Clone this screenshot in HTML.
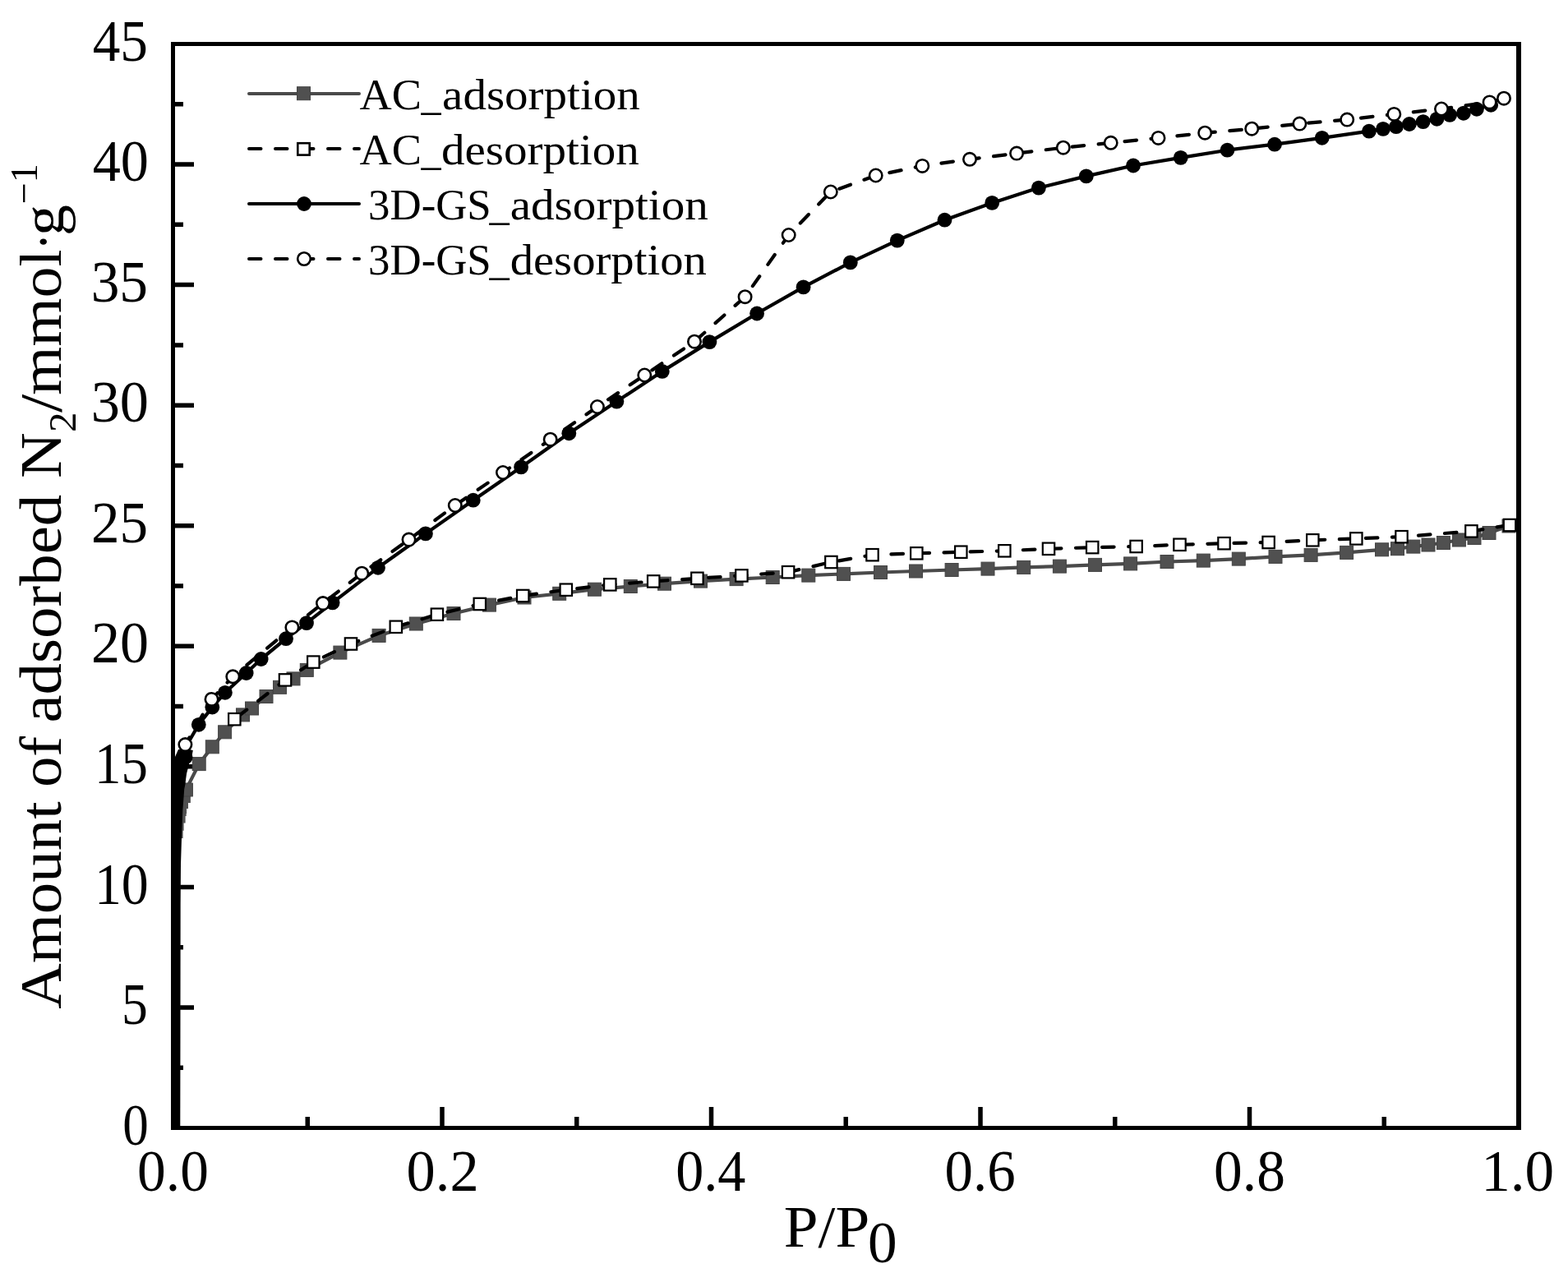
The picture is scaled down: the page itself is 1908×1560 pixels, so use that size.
<!DOCTYPE html>
<html><head><meta charset="utf-8"><title>N2 adsorption isotherms</title>
<style>html,body{margin:0;padding:0;background:#fff;overflow:hidden;}svg{display:block;}</style>
</head><body>
<svg width="1908" height="1560" viewBox="0 0 1908 1560">
<rect x="0" y="0" width="1908" height="1560" fill="#ffffff"/>
<defs><clipPath id="pc"><rect x="210.5" y="53.5" width="1637.5" height="1319"/></clipPath></defs>
<path d="M213,1299.22h10 M213,1225.94h23 M213,1152.67h10 M213,1079.39h23 M213,1006.11h10 M213,932.83h23 M213,859.56h10 M213,786.28h23 M213,713.00h10 M213,639.72h23 M213,566.44h10 M213,493.17h23 M213,419.89h10 M213,346.61h23 M213,273.33h10 M213,200.06h23 M213,126.78h10 M374.25,1370v-11 M538.00,1370v-23 M701.75,1370v-11 M865.50,1370v-23 M1029.25,1370v-11 M1193.00,1370v-23 M1356.75,1370v-11 M1520.50,1370v-23 M1684.25,1370v-11" stroke="#000" stroke-width="5.5" fill="none"/>
<g clip-path="url(#pc)">
<polyline points="226.3,961.0 242.2,929.6 258.3,908.8 273.6,890.8 295.5,869.9 306.5,862.0 324.0,847.5 340.5,836.3 357.0,825.9 373.3,815.4 413.9,794.1 461.1,773.4 506.3,759.0 552.0,746.5 595.4,736.1 638.0,727.0 680.7,722.3 723.4,717.2 767.3,713.5 808.5,710.2 852.5,707.1 896.1,704.6 940.2,702.5 983.8,700.1 1026.5,698.4 1071.5,696.5 1114.5,695.0 1158.1,693.5 1202.0,692.1 1245.7,690.4 1289.4,689.1 1332.5,687.4 1375.6,685.9 1420.0,683.5 1464.3,682.1 1507.3,680.1 1552.0,677.4 1595.1,675.4 1638.6,672.4 1681.5,668.8 1700.5,667.7 1719.8,665.1 1738.0,663.0 1756.4,660.5 1775.4,657.0 1794.0,654.5 1812.0,648.5 1836.0,640.0" fill="none" stroke="#4a4a4a" stroke-width="4.2" stroke-linejoin="round"/>
<polygon points="213.0,1376.0 213.0,953.0 234.8,953.0 234.8,968.8 231.9,968.8 231.9,976.9 229.0,976.9 229.0,983.9 227.1,983.9 227.1,990.0 226.7,990.0 226.7,993.0 225.6,993.0 225.6,1001.5 223.6,1001.5 223.6,1010.8 222.6,1010.8 222.6,1020.0 220.0,1020.0 219.5,1060.0 219.0,1376.0" fill="#505050"/>
<g fill="#505050" stroke="#444" stroke-width="1">
<rect x="218.3" y="953.0" width="16" height="16"/>
<rect x="234.2" y="921.6" width="16" height="16"/>
<rect x="250.3" y="900.8" width="16" height="16"/>
<rect x="265.6" y="882.8" width="16" height="16"/>
<rect x="287.5" y="861.9" width="16" height="16"/>
<rect x="298.5" y="854.0" width="16" height="16"/>
<rect x="316.0" y="839.5" width="16" height="16"/>
<rect x="332.5" y="828.3" width="16" height="16"/>
<rect x="349.0" y="817.9" width="16" height="16"/>
<rect x="365.3" y="807.4" width="16" height="16"/>
<rect x="405.9" y="786.1" width="16" height="16"/>
<rect x="453.1" y="765.4" width="16" height="16"/>
<rect x="498.3" y="751.0" width="16" height="16"/>
<rect x="544.0" y="738.5" width="16" height="16"/>
<rect x="587.4" y="728.1" width="16" height="16"/>
<rect x="630.0" y="719.0" width="16" height="16"/>
<rect x="672.7" y="714.3" width="16" height="16"/>
<rect x="715.4" y="709.2" width="16" height="16"/>
<rect x="759.3" y="705.5" width="16" height="16"/>
<rect x="800.5" y="702.2" width="16" height="16"/>
<rect x="844.5" y="699.1" width="16" height="16"/>
<rect x="888.1" y="696.6" width="16" height="16"/>
<rect x="932.2" y="694.5" width="16" height="16"/>
<rect x="975.8" y="692.1" width="16" height="16"/>
<rect x="1018.5" y="690.4" width="16" height="16"/>
<rect x="1063.5" y="688.5" width="16" height="16"/>
<rect x="1106.5" y="687.0" width="16" height="16"/>
<rect x="1150.1" y="685.5" width="16" height="16"/>
<rect x="1194.0" y="684.1" width="16" height="16"/>
<rect x="1237.7" y="682.4" width="16" height="16"/>
<rect x="1281.4" y="681.1" width="16" height="16"/>
<rect x="1324.5" y="679.4" width="16" height="16"/>
<rect x="1367.6" y="677.9" width="16" height="16"/>
<rect x="1412.0" y="675.5" width="16" height="16"/>
<rect x="1456.3" y="674.1" width="16" height="16"/>
<rect x="1499.3" y="672.1" width="16" height="16"/>
<rect x="1544.0" y="669.4" width="16" height="16"/>
<rect x="1587.1" y="667.4" width="16" height="16"/>
<rect x="1630.6" y="664.4" width="16" height="16"/>
<rect x="1673.5" y="660.8" width="16" height="16"/>
<rect x="1692.5" y="659.7" width="16" height="16"/>
<rect x="1711.8" y="657.1" width="16" height="16"/>
<rect x="1730.0" y="655.0" width="16" height="16"/>
<rect x="1748.4" y="652.5" width="16" height="16"/>
<rect x="1767.4" y="649.0" width="16" height="16"/>
<rect x="1786.0" y="646.5" width="16" height="16"/>
<rect x="1804.0" y="640.5" width="16" height="16"/>
<rect x="1828.0" y="632.0" width="16" height="16"/>
</g>
<polyline points="1837.0,639.0 1790.4,646.4 1705.5,653.2 1650.3,655.4 1597.3,657.3 1543.6,660.0 1489.5,661.2 1435.5,662.8 1382.6,665.0 1329.2,666.1 1276.0,667.8 1222.3,670.3 1169.3,671.7 1115.3,673.3 1061.5,675.2 1011.4,684.0 959.1,696.2 902.4,700.4 848.4,703.8 795.2,707.4 742.3,711.4 688.8,717.7 636.2,725.0 583.8,735.0 531.9,747.7 481.8,762.8 427.0,783.5 381.3,805.6 347.0,827.4 285.3,875.2" fill="none" stroke="#000" stroke-width="4.2" stroke-dasharray="14.5 17.6" stroke-dashoffset="-1.0" stroke-linecap="round" stroke-linejoin="round"/>
<g fill="#fff" stroke="#000" stroke-width="2.2">
<rect x="1829.8" y="631.8" width="14.4" height="14.4"/>
<rect x="1783.2" y="639.2" width="14.4" height="14.4"/>
<rect x="1698.3" y="646.0" width="14.4" height="14.4"/>
<rect x="1643.1" y="648.2" width="14.4" height="14.4"/>
<rect x="1590.1" y="650.1" width="14.4" height="14.4"/>
<rect x="1536.4" y="652.8" width="14.4" height="14.4"/>
<rect x="1482.3" y="654.0" width="14.4" height="14.4"/>
<rect x="1428.3" y="655.6" width="14.4" height="14.4"/>
<rect x="1375.4" y="657.8" width="14.4" height="14.4"/>
<rect x="1322.0" y="658.9" width="14.4" height="14.4"/>
<rect x="1268.8" y="660.6" width="14.4" height="14.4"/>
<rect x="1215.1" y="663.1" width="14.4" height="14.4"/>
<rect x="1162.1" y="664.5" width="14.4" height="14.4"/>
<rect x="1108.1" y="666.1" width="14.4" height="14.4"/>
<rect x="1054.3" y="668.0" width="14.4" height="14.4"/>
<rect x="1004.2" y="676.8" width="14.4" height="14.4"/>
<rect x="951.9" y="689.0" width="14.4" height="14.4"/>
<rect x="895.2" y="693.2" width="14.4" height="14.4"/>
<rect x="841.2" y="696.6" width="14.4" height="14.4"/>
<rect x="788.0" y="700.2" width="14.4" height="14.4"/>
<rect x="735.1" y="704.2" width="14.4" height="14.4"/>
<rect x="681.6" y="710.5" width="14.4" height="14.4"/>
<rect x="629.0" y="717.8" width="14.4" height="14.4"/>
<rect x="576.6" y="727.8" width="14.4" height="14.4"/>
<rect x="524.7" y="740.5" width="14.4" height="14.4"/>
<rect x="474.6" y="755.6" width="14.4" height="14.4"/>
<rect x="419.8" y="776.3" width="14.4" height="14.4"/>
<rect x="374.1" y="798.4" width="14.4" height="14.4"/>
<rect x="339.8" y="820.2" width="14.4" height="14.4"/>
<rect x="278.1" y="868.0" width="14.4" height="14.4"/>
</g>
<polyline points="226.5,908.0 241.8,881.8 258.3,860.5 273.9,842.8 299.7,819.0 317.7,802.0 348.0,777.2 373.0,758.1 404.6,733.4 460.0,690.8 517.9,649.4 575.8,608.7 634.1,568.4 692.3,527.3 750.4,488.6 805.8,451.9 863.4,416.1 921.1,381.5 977.6,349.4 1034.8,319.4 1091.8,292.6 1149.5,267.7 1207.2,246.9 1263.9,228.6 1321.8,214.4 1379.0,201.5 1436.7,191.9 1493.4,182.7 1551.0,175.7 1608.7,167.8 1665.9,159.7 1683.0,156.9 1698.9,154.2 1714.9,151.0 1731.7,148.1 1748.4,144.8 1764.1,139.9 1780.9,137.8 1796.9,132.8 1814.2,127.8" fill="none" stroke="#000" stroke-width="4.2" stroke-linejoin="round"/>
<polygon points="213.0,1376.0 213.0,921.0 217.0,912.0 226.0,911.0 234.8,913.0 233.2,922.0 230.3,928.5 228.7,935.0 227.1,941.3 226.2,947.7 225.5,954.0 224.2,960.5 223.3,973.3 222.3,986.0 221.0,1020.0 220.0,1052.0 219.5,1100.0 219.3,1376.0" fill="#000"/>
<g fill="#000">
<circle cx="225.6" cy="921.5" r="8.9"/>
<circle cx="241.8" cy="881.8" r="8.9"/>
<circle cx="258.3" cy="860.5" r="8.9"/>
<circle cx="273.9" cy="842.8" r="8.9"/>
<circle cx="299.7" cy="819.0" r="8.9"/>
<circle cx="317.7" cy="802.0" r="8.9"/>
<circle cx="348.0" cy="777.2" r="8.9"/>
<circle cx="373.0" cy="758.1" r="8.9"/>
<circle cx="404.6" cy="733.4" r="8.9"/>
<circle cx="460.0" cy="690.8" r="8.9"/>
<circle cx="517.9" cy="649.4" r="8.9"/>
<circle cx="575.8" cy="608.7" r="8.9"/>
<circle cx="634.1" cy="568.4" r="8.9"/>
<circle cx="692.3" cy="527.3" r="8.9"/>
<circle cx="750.4" cy="488.6" r="8.9"/>
<circle cx="805.8" cy="451.9" r="8.9"/>
<circle cx="863.4" cy="416.1" r="8.9"/>
<circle cx="921.1" cy="381.5" r="8.9"/>
<circle cx="977.6" cy="349.4" r="8.9"/>
<circle cx="1034.8" cy="319.4" r="8.9"/>
<circle cx="1091.8" cy="292.6" r="8.9"/>
<circle cx="1149.5" cy="267.7" r="8.9"/>
<circle cx="1207.2" cy="246.9" r="8.9"/>
<circle cx="1263.9" cy="228.6" r="8.9"/>
<circle cx="1321.8" cy="214.4" r="8.9"/>
<circle cx="1379.0" cy="201.5" r="8.9"/>
<circle cx="1436.7" cy="191.9" r="8.9"/>
<circle cx="1493.4" cy="182.7" r="8.9"/>
<circle cx="1551.0" cy="175.7" r="8.9"/>
<circle cx="1608.7" cy="167.8" r="8.9"/>
<circle cx="1665.9" cy="159.7" r="8.9"/>
<circle cx="1683.0" cy="156.9" r="8.9"/>
<circle cx="1698.9" cy="154.2" r="8.9"/>
<circle cx="1714.9" cy="151.0" r="8.9"/>
<circle cx="1731.7" cy="148.1" r="8.9"/>
<circle cx="1748.4" cy="144.8" r="8.9"/>
<circle cx="1764.1" cy="139.9" r="8.9"/>
<circle cx="1780.9" cy="137.8" r="8.9"/>
<circle cx="1796.9" cy="132.8" r="8.9"/>
<circle cx="1814.2" cy="127.8" r="8.9"/>
</g>
<polyline points="1830.0,119.7 1812.6,124.4 1754.0,132.5 1696.3,138.9 1639.2,145.6 1581.4,150.6 1523.2,156.7 1466.2,161.7 1409.5,167.9 1351.7,173.8 1293.8,179.7 1237.1,186.6 1180.0,193.8 1122.3,201.9 1065.7,213.5 1010.8,233.5 959.7,286.0 906.6,361.2 845.0,415.7 784.3,456.5 726.9,495.0 669.7,534.7 612.0,575.0 553.8,615.0 497.5,656.6 440.3,697.7 393.0,734.1 355.4,763.4 283.3,823.3 257.5,850.9 225.4,906.1" fill="none" stroke="#000" stroke-width="4.2" stroke-dasharray="14.5 17.6" stroke-dashoffset="-0.75" stroke-linecap="round" stroke-linejoin="round"/>
<g fill="#fff" stroke="#000" stroke-width="2.6">
<circle cx="1830.0" cy="119.7" r="7.7"/>
<circle cx="1812.6" cy="124.4" r="7.7"/>
<circle cx="1754.0" cy="132.5" r="7.7"/>
<circle cx="1696.3" cy="138.9" r="7.7"/>
<circle cx="1639.2" cy="145.6" r="7.7"/>
<circle cx="1581.4" cy="150.6" r="7.7"/>
<circle cx="1523.2" cy="156.7" r="7.7"/>
<circle cx="1466.2" cy="161.7" r="7.7"/>
<circle cx="1409.5" cy="167.9" r="7.7"/>
<circle cx="1351.7" cy="173.8" r="7.7"/>
<circle cx="1293.8" cy="179.7" r="7.7"/>
<circle cx="1237.1" cy="186.6" r="7.7"/>
<circle cx="1180.0" cy="193.8" r="7.7"/>
<circle cx="1122.3" cy="201.9" r="7.7"/>
<circle cx="1065.7" cy="213.5" r="7.7"/>
<circle cx="1010.8" cy="233.5" r="7.7"/>
<circle cx="959.7" cy="286.0" r="7.7"/>
<circle cx="906.6" cy="361.2" r="7.7"/>
<circle cx="845.0" cy="415.7" r="7.7"/>
<circle cx="784.3" cy="456.5" r="7.7"/>
<circle cx="726.9" cy="495.0" r="7.7"/>
<circle cx="669.7" cy="534.7" r="7.7"/>
<circle cx="612.0" cy="575.0" r="7.7"/>
<circle cx="553.8" cy="615.0" r="7.7"/>
<circle cx="497.5" cy="656.6" r="7.7"/>
<circle cx="440.3" cy="697.7" r="7.7"/>
<circle cx="393.0" cy="734.1" r="7.7"/>
<circle cx="355.4" cy="763.4" r="7.7"/>
<circle cx="283.3" cy="823.3" r="7.7"/>
<circle cx="257.5" cy="850.9" r="7.7"/>
<circle cx="225.4" cy="906.1" r="7.7"/>
</g>
</g>
<path d="M208,51H1851V56H208Z M208,1370H1851V1375H208Z M208,51H213V1375H208Z M1845,51H1851V1375H1845Z" fill="#000"/>
<g font-family="'Liberation Serif', serif" fill="#000" style="font-kerning:none">
<text x="149.20" y="1392.70" font-size="71" textLength="31.50" lengthAdjust="spacingAndGlyphs">0</text>
<text x="148.01" y="1246.14" font-size="71" textLength="31.78" lengthAdjust="spacingAndGlyphs">5</text>
<text x="114.91" y="1099.59" font-size="71" textLength="65.90" lengthAdjust="spacingAndGlyphs">10</text>
<text x="115.00" y="953.03" font-size="71" textLength="64.83" lengthAdjust="spacingAndGlyphs">15</text>
<text x="110.92" y="806.48" font-size="71" textLength="70.05" lengthAdjust="spacingAndGlyphs">20</text>
<text x="110.97" y="659.92" font-size="71" textLength="69.03" lengthAdjust="spacingAndGlyphs">25</text>
<text x="110.63" y="513.37" font-size="71" textLength="70.35" lengthAdjust="spacingAndGlyphs">30</text>
<text x="110.68" y="366.81" font-size="71" textLength="69.33" lengthAdjust="spacingAndGlyphs">35</text>
<text x="112.67" y="220.26" font-size="71" textLength="68.23" lengthAdjust="spacingAndGlyphs">40</text>
<text x="112.69" y="73.70" font-size="71" textLength="67.24" lengthAdjust="spacingAndGlyphs">45</text>
<text x="167.11" y="1449.00" font-size="71" textLength="86.79" lengthAdjust="spacingAndGlyphs">0.0</text>
<text x="494.57" y="1449.00" font-size="71" textLength="88.07" lengthAdjust="spacingAndGlyphs">0.2</text>
<text x="822.16" y="1449.00" font-size="71" textLength="85.16" lengthAdjust="spacingAndGlyphs">0.4</text>
<text x="1149.62" y="1449.00" font-size="71" textLength="86.18" lengthAdjust="spacingAndGlyphs">0.6</text>
<text x="1477.11" y="1449.00" font-size="71" textLength="86.79" lengthAdjust="spacingAndGlyphs">0.8</text>
<text x="1802.24" y="1449.00" font-size="71" textLength="88.97" lengthAdjust="spacingAndGlyphs">1.0</text>
<text x="953.83" y="1517.00" font-size="71" textLength="104.47" lengthAdjust="spacingAndGlyphs">P/P</text>
<text x="1056.09" y="1536.00" font-size="71" textLength="35.63" lengthAdjust="spacingAndGlyphs">0</text>
<text transform="rotate(-90)" x="-1227.75" y="73.80" font-size="71" textLength="252.50" lengthAdjust="spacingAndGlyphs">Amount</text>
<text transform="rotate(-90)" x="-957.82" y="73.80" font-size="71" textLength="61.72" lengthAdjust="spacingAndGlyphs">of</text>
<text transform="rotate(-90)" x="-879.61" y="73.80" font-size="71" textLength="277.95" lengthAdjust="spacingAndGlyphs">adsorbed</text>
<text transform="rotate(-90)" x="-582.13" y="73.80" font-size="71" textLength="55.80" lengthAdjust="spacingAndGlyphs">N</text>
<text transform="rotate(-90)" x="-525.96" y="92.00" font-size="47" textLength="24.57" lengthAdjust="spacingAndGlyphs">2</text>
<text transform="rotate(-90)" x="-502.00" y="73.80" font-size="71" textLength="22.20" lengthAdjust="spacingAndGlyphs">/</text>
<text transform="rotate(-90)" x="-480.69" y="73.80" font-size="71" textLength="177.21" lengthAdjust="spacingAndGlyphs">mmol</text>
<text transform="rotate(-90)" x="-304.43" y="77.30" font-size="71" textLength="20.85" lengthAdjust="spacingAndGlyphs">·</text>
<text transform="rotate(-90)" x="-286.96" y="76.80" font-size="71" textLength="37.90" lengthAdjust="spacingAndGlyphs">g</text>
<text transform="rotate(-90)" x="-248.30" y="45.40" font-size="47" textLength="49.18" lengthAdjust="spacingAndGlyphs">−1</text>
<text x="437.57" y="133.30" font-size="53" textLength="75.53" lengthAdjust="spacingAndGlyphs">AC</text>
<text x="512.48" y="133.30" font-size="53" textLength="24.15" lengthAdjust="spacingAndGlyphs">_</text>
<text x="538.09" y="133.30" font-size="53" textLength="240.77" lengthAdjust="spacingAndGlyphs">adsorption</text>
<text x="437.57" y="200.10" font-size="53" textLength="75.53" lengthAdjust="spacingAndGlyphs">AC</text>
<text x="512.48" y="200.10" font-size="53" textLength="24.15" lengthAdjust="spacingAndGlyphs">_</text>
<text x="536.94" y="200.10" font-size="53" textLength="240.93" lengthAdjust="spacingAndGlyphs">desorption</text>
<text x="448.07" y="267.10" font-size="53" textLength="149.70" lengthAdjust="spacingAndGlyphs">3D-GS</text>
<text x="595.38" y="267.10" font-size="53" textLength="24.24" lengthAdjust="spacingAndGlyphs">_</text>
<text x="620.69" y="267.10" font-size="53" textLength="241.17" lengthAdjust="spacingAndGlyphs">adsorption</text>
<text x="448.07" y="334.10" font-size="53" textLength="149.70" lengthAdjust="spacingAndGlyphs">3D-GS</text>
<text x="595.38" y="334.10" font-size="53" textLength="24.24" lengthAdjust="spacingAndGlyphs">_</text>
<text x="620.65" y="334.10" font-size="53" textLength="239.20" lengthAdjust="spacingAndGlyphs">desorption</text>
</g>
<line x1="303" y1="114" x2="437" y2="114" stroke="#4a4a4a" stroke-width="4" stroke-linecap="round"/>
<rect x="361.5" y="105.7" width="16" height="16" fill="#505050" stroke="#444" stroke-width="1"/>
<line x1="303" y1="181" x2="437" y2="181" stroke="#000" stroke-width="4" stroke-linecap="round" stroke-dasharray="14.5 17.5"/>
<rect x="362.3" y="174.2" width="14.4" height="14.4" fill="#fff" stroke="#000" stroke-width="2.6"/>
<line x1="303" y1="248" x2="437" y2="248" stroke="#000" stroke-width="4" stroke-linecap="round"/>
<circle cx="370" cy="248" r="8.9" fill="#000"/>
<line x1="303" y1="315" x2="437" y2="315" stroke="#000" stroke-width="4" stroke-linecap="round" stroke-dasharray="14.5 17.5"/>
<circle cx="370" cy="315" r="7.8" fill="#fff" stroke="#000" stroke-width="2.6"/>
</svg>
</body></html>
